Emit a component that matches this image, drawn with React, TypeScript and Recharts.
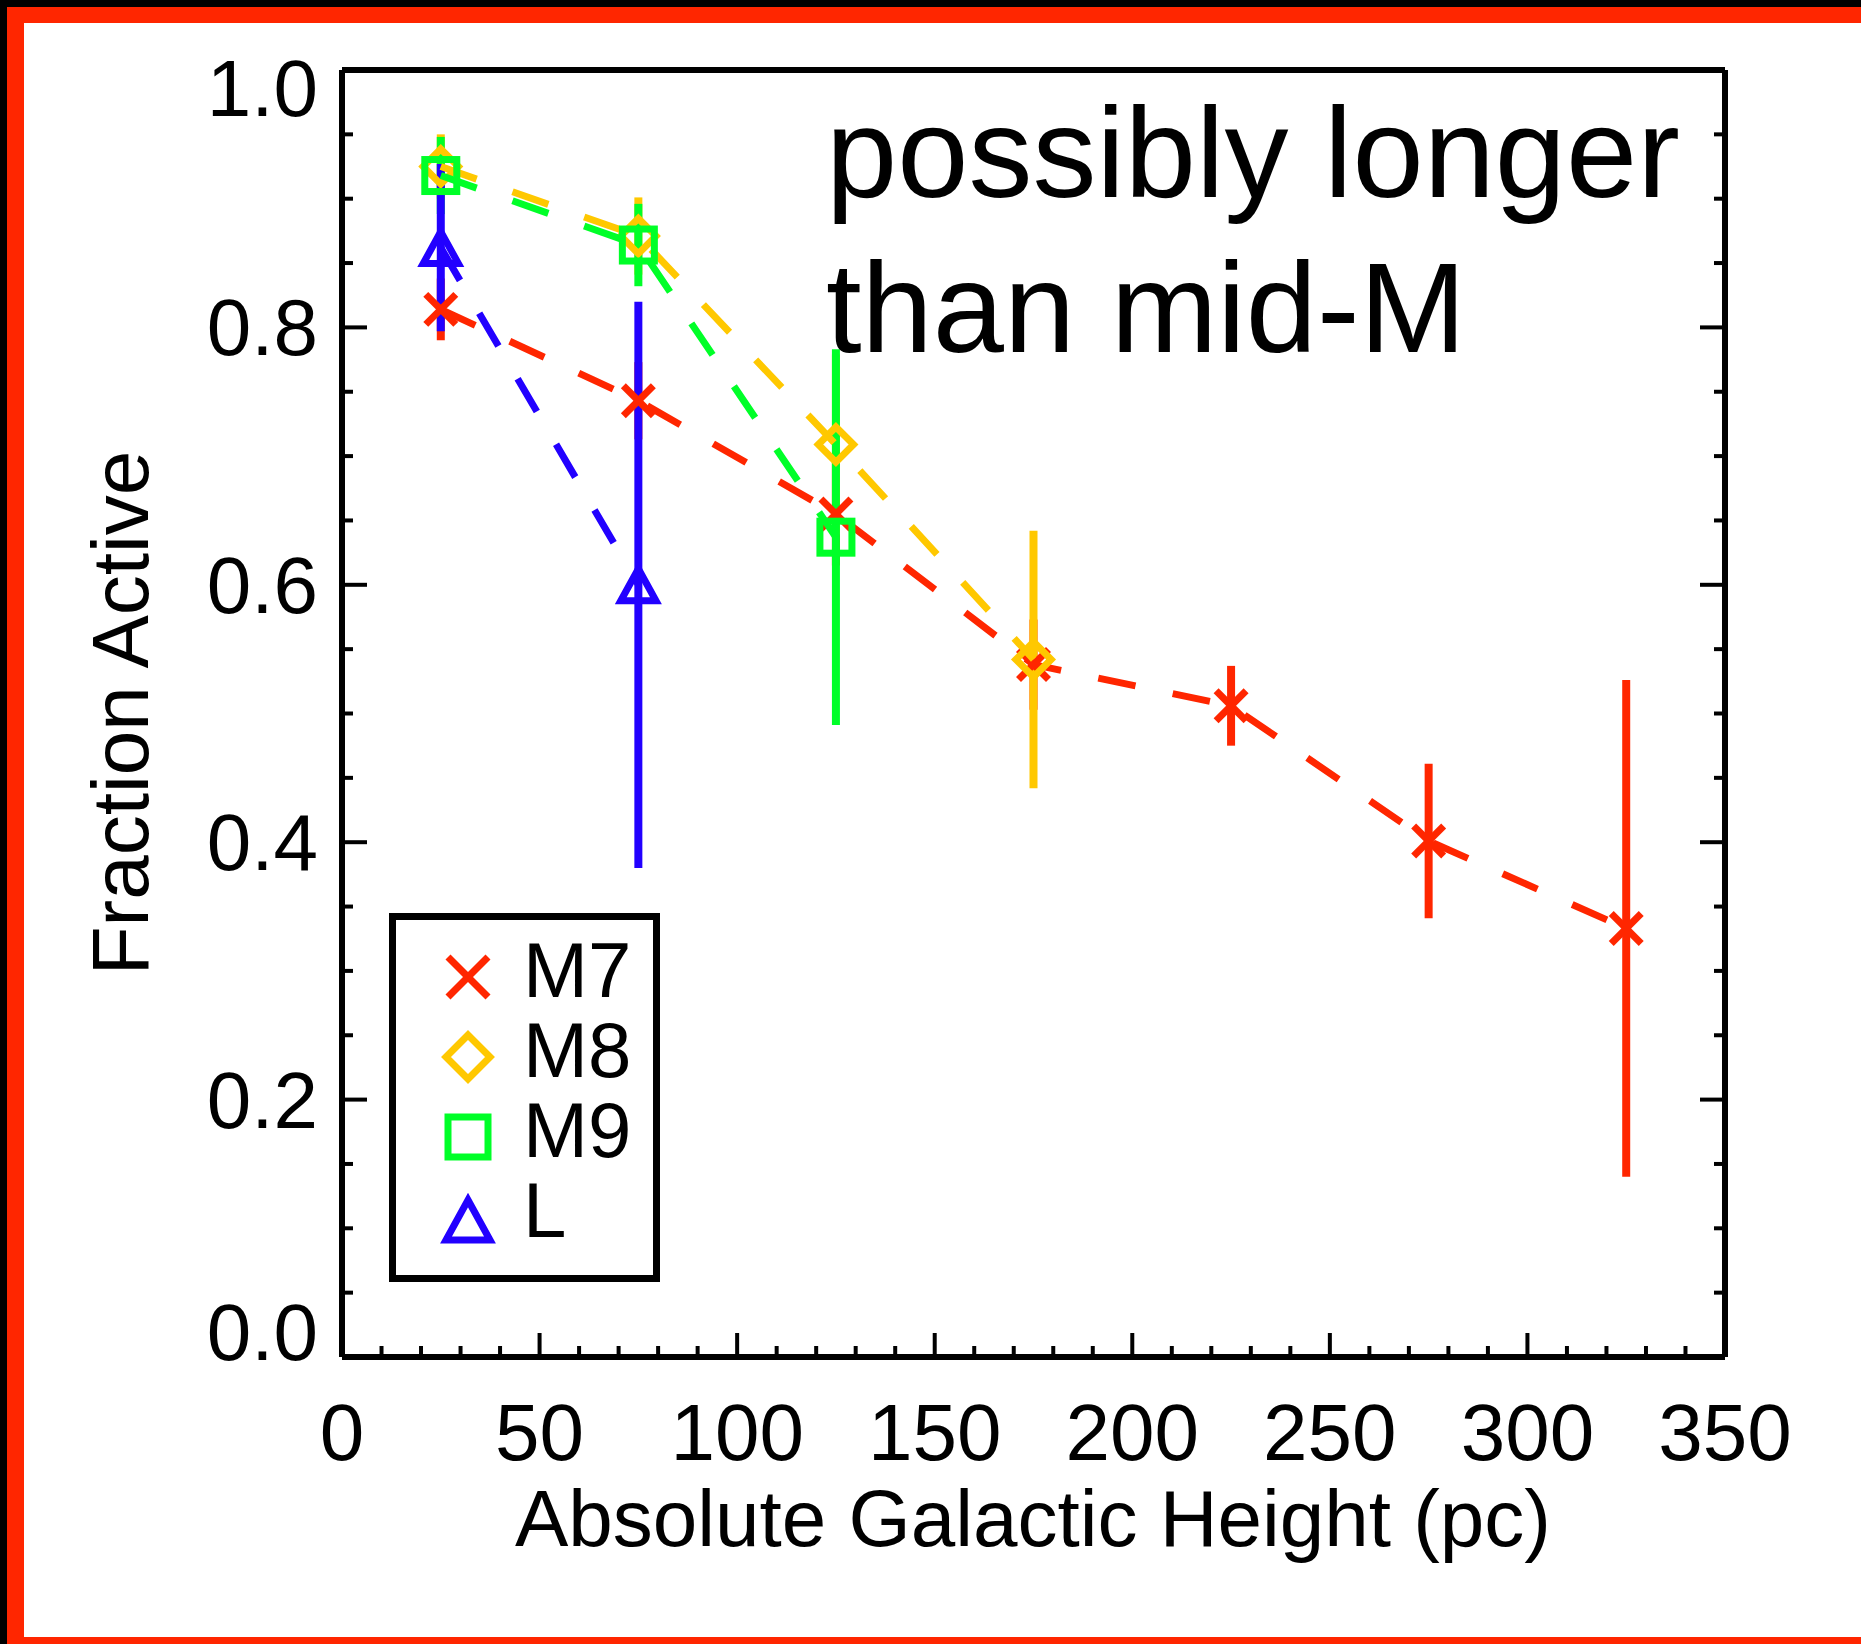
import { ScatterChart, Scatter, XAxis, YAxis, ErrorBar, Legend } from 'recharts';

// absolute galactic height bins (pc), fraction active and 1-sigma errors
const m7Height = [25, 75, 125, 175, 225, 275, 325];
const m7Active = [0.814, 0.743, 0.655, 0.538, 0.506, 0.401, 0.333];
const m7Err = [0.024, 0.03, 0.04, 0.035, 0.031, 0.06, 0.193];

const m8Height = [25, 75, 125, 175];
const m8Active = [0.925, 0.871, 0.709, 0.542];
const m8Err = [0.025, 0.03, 0.07, 0.1];

const m9Height = [25, 75, 125];
const m9Active = [0.918, 0.864, 0.637];
const m9Err = [0.03, 0.032, 0.146];

const lHeight = [25, 75];
const lActive = [0.862, 0.6];
const lErr = [0.065, 0.22];

const seriesNames = ['M7', 'M8', 'M9', 'L'];

const xTicks = [
  0, 10, 20, 30, 40, 50, 60, 70, 80, 90, 100, 110, 120, 130, 140, 150, 160, 170,
  180, 190, 200, 210, 220, 230, 240, 250, 260, 270, 280, 290, 300, 310, 320, 330, 340, 350,
];
const xMajor = [0, 50, 100, 150, 200, 250, 300, 350];
const yTicks = [
  0, 0.05, 0.1, 0.15, 0.2, 0.25, 0.3, 0.35, 0.4, 0.45, 0.5, 0.55, 0.6, 0.65, 0.7, 0.75,
  0.8, 0.85, 0.9, 0.95, 1.0,
];
const yMajor = [0, 0.2, 0.4, 0.6, 0.8, 1.0];

const RED = '#ff2600';
const YELLOW = '#ffc800';
const GREEN = '#00ff28';
const BLUE = '#2200ff';

const FONT = '"Liberation Sans", Arial, Helvetica, sans-serif';

const toPoints = (xs: number[], ys: number[], es: number[]) =>
  xs.map((x, i) => ({ height: x, active: ys[i], err: es[i] }));

const m7Data = toPoints(m7Height, m7Active, m7Err);
const m8Data = toPoints(m8Height, m8Active, m8Err);
const m9Data = toPoints(m9Height, m9Active, m9Err);
const lData = toPoints(lHeight, lActive, lErr);

const isMajor = (list: number[], v: number) => list.some((m) => Math.abs(m - v) < 1e-6);

function drawMarker(kind: string, cx: number, cy: number, color: string, s: number, sw: number) {
  if (kind === 'x') {
    return (
      <g stroke={color} strokeWidth={sw}>
        <line x1={cx - s} y1={cy - s} x2={cx + s} y2={cy + s} />
        <line x1={cx - s} y1={cy + s} x2={cx + s} y2={cy - s} />
      </g>
    );
  }
  if (kind === 'diamond') {
    const r = s * 1.1;
    return (
      <polygon
        points={`${cx},${cy - r} ${cx + r},${cy} ${cx},${cy + r} ${cx - r},${cy}`}
        fill="none"
        stroke={color}
        strokeWidth={sw}
      />
    );
  }
  if (kind === 'square') {
    return <rect x={cx - s} y={cy - s} width={2 * s} height={2 * s} fill="none" stroke={color} strokeWidth={sw} />;
  }
  const hw = s * 1.1;
  return (
    <polygon
      points={`${cx},${cy - s} ${cx + hw},${cy + s} ${cx - hw},${cy + s}`}
      fill="none"
      stroke={color}
      strokeWidth={sw}
    />
  );
}

const markerFor: Record<string, string> = { M7: 'x', M8: 'diamond', M9: 'square', L: 'triangle' };
const colorFor: Record<string, string> = { M7: RED, M8: YELLOW, M9: GREEN, L: BLUE };

const shapeOf = (kind: string, color: string) => (p: any) =>
  drawMarker(kind, p.cx, p.cy, color, kind === 'x' ? 15 : 16, 7);

const BottomTick = ({ x, y, payload }: any) => {
  const major = isMajor(xMajor, payload.value);
  return (
    <g>
      <line x1={x} x2={x} y1={y} y2={y - (major ? 24 : 11)} stroke="#000" strokeWidth={4} />
      {major && (
        <text x={x} y={y + 103} textAnchor="middle" fontSize={80} fontFamily={FONT} fill="#000">
          {payload.value}
        </text>
      )}
    </g>
  );
};

const TopTick = ({ x, y, payload }: any) => {
  const major = isMajor(xMajor, payload.value);
  return <line x1={x} x2={x} y1={y} y2={y + (major ? 24 : 11)} stroke="#000" strokeWidth={4} />;
};

const LeftTick = ({ x, y, payload }: any) => {
  const v = payload.value;
  const major = isMajor(yMajor, v);
  let dy = 28;
  if (Math.abs(v - 1) < 1e-6) dy = 46;
  if (Math.abs(v) < 1e-6) dy = 3;
  return (
    <g>
      <line x1={x} x2={x + (major ? 25 : 11)} y1={y} y2={y} stroke="#000" strokeWidth={4} />
      {major && (
        <text x={x - 24} y={y + dy} textAnchor="end" fontSize={80} fontFamily={FONT} fill="#000">
          {Number(v).toFixed(1)}
        </text>
      )}
    </g>
  );
};

const RightTick = ({ x, y, payload }: any) => {
  const major = isMajor(yMajor, payload.value);
  return <line x1={x} x2={x - (major ? 25 : 11)} y1={y} y2={y} stroke="#000" strokeWidth={4} />;
};

const LegendBox = ({ payload }: any) => {
  const names = seriesNames.filter((n) => (payload || []).some((e: any) => e.value === n));
  return (
    <svg width={271} height={369} style={{ display: 'block' }}>
      <rect x={3.5} y={3.5} width={264} height={362} fill="#fff" stroke="#000" strokeWidth={7} />
      {names.map((name, i) => {
        const cy = 64 + i * 80 + (name === 'L' ? 3 : 0);
        return (
          <g key={name}>
            {drawMarker(markerFor[name], 79, cy, colorFor[name], 20, 7)}
            <text x={134} y={84 + i * 80} fontSize={78} fontFamily={FONT} fill="#000">
              {name}
            </text>
          </g>
        );
      })}
    </svg>
  );
};

export default function App() {
  const axisLine = { stroke: '#000', strokeWidth: 6 };
  const dash = '38 38';
  const lineW = 7;
  const barW = 8;
  return (
    <div style={{ position: 'absolute', left: 0, top: 0, width: 1861, height: 1644, background: '#fff', overflow: 'hidden' }}>
      <ScatterChart width={1861} height={1644} margin={{ top: 0, right: 0, bottom: 0, left: 0 }}>
        <XAxis
          dataKey="height"
          type="number"
          domain={[0, 350]}
          ticks={xTicks}
          interval={0}
          allowDataOverflow
          height={287}
          tickSize={0}
          tickMargin={0}
          axisLine={axisLine}
          tick={<BottomTick />}
        />
        <XAxis
          xAxisId="top"
          orientation="top"
          type="number"
          domain={[0, 350]}
          ticks={xTicks}
          interval={0}
          allowDataOverflow
          height={70}
          tickSize={0}
          tickMargin={0}
          axisLine={axisLine}
          tick={<TopTick />}
        />
        <YAxis
          dataKey="active"
          type="number"
          domain={[0, 1]}
          ticks={yTicks}
          interval={0}
          allowDataOverflow
          width={342}
          tickSize={0}
          tickMargin={0}
          axisLine={axisLine}
          tick={<LeftTick />}
        />
        <YAxis
          yAxisId="right"
          orientation="right"
          type="number"
          domain={[0, 1]}
          ticks={yTicks}
          interval={0}
          allowDataOverflow
          width={136}
          tickSize={0}
          tickMargin={0}
          axisLine={axisLine}
          tick={<RightTick />}
        />
        <Legend
          layout="vertical"
          align="center"
          verticalAlign="middle"
          wrapperStyle={{ left: 389, top: 913, width: 271, height: 369 }}
          content={<LegendBox />}
        />
        <Scatter
          name="M7"
          data={m7Data}
          fill={RED}
          line={{ stroke: RED, strokeWidth: lineW, strokeDasharray: dash }}
          lineType="joint"
          shape={shapeOf('x', RED)}
          isAnimationActive={false}
        >
          <ErrorBar dataKey="err" direction="y" width={0} stroke={RED} strokeWidth={barW} isAnimationActive={false} />
        </Scatter>
        <Scatter
          name="M8"
          data={m8Data}
          fill={YELLOW}
          line={{ stroke: YELLOW, strokeWidth: lineW, strokeDasharray: dash }}
          lineType="joint"
          shape={shapeOf('diamond', YELLOW)}
          isAnimationActive={false}
        >
          <ErrorBar dataKey="err" direction="y" width={0} stroke={YELLOW} strokeWidth={barW} isAnimationActive={false} />
        </Scatter>
        <Scatter
          name="M9"
          data={m9Data}
          fill={GREEN}
          line={{ stroke: GREEN, strokeWidth: lineW, strokeDasharray: dash }}
          lineType="joint"
          shape={shapeOf('square', GREEN)}
          isAnimationActive={false}
        >
          <ErrorBar dataKey="err" direction="y" width={0} stroke={GREEN} strokeWidth={barW} isAnimationActive={false} />
        </Scatter>
        <Scatter
          name="L"
          data={lData}
          fill={BLUE}
          line={{ stroke: BLUE, strokeWidth: lineW, strokeDasharray: dash }}
          lineType="joint"
          shape={shapeOf('triangle', BLUE)}
          isAnimationActive={false}
        >
          <ErrorBar dataKey="err" direction="y" width={0} stroke={BLUE} strokeWidth={barW} isAnimationActive={false} />
        </Scatter>
      </ScatterChart>
      <svg
        width={1861}
        height={1644}
        style={{ position: 'absolute', left: 0, top: 0, pointerEvents: 'none' }}
      >
        <rect x={0} y={0} width={1861} height={7} fill="#000" />
        <rect x={0} y={0} width={7} height={1644} fill="#000" />
        <rect x={7} y={7} width={1854} height={16} fill="#ff2600" />
        <rect x={7} y={7} width={17} height={1637} fill="#ff2600" />
        <rect x={7} y={1637} width={1854} height={7} fill="#ff2600" />
        <text fontFamily={FONT} fontSize={80} fill="#000" textAnchor="middle" transform="translate(148,713) rotate(-90)">
          Fraction Active
        </text>
        <text x={1033} y={1546} fontFamily={FONT} fontSize={80} fill="#000" textAnchor="middle">
          Absolute Galactic Height (pc)
        </text>
        <text x={826} y={197} fontFamily={FONT} fontSize={128} fill="#000">
          possibly longer
        </text>
        <text x={826} y={352} fontFamily={FONT} fontSize={128} fill="#000">
          than mid-M
        </text>
      </svg>
    </div>
  );
}
